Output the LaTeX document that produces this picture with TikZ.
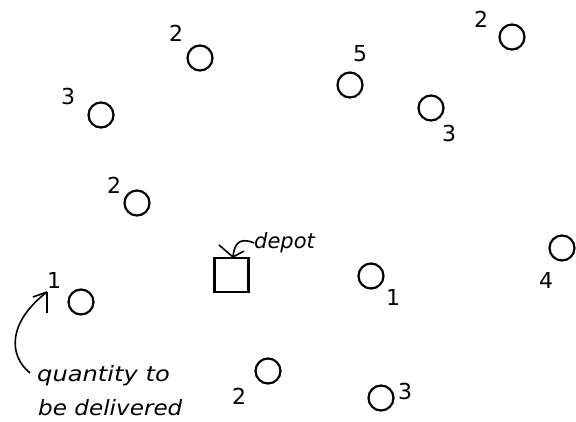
\documentclass[tikz,border=0pt]{standalone}
\usepackage{fontspec}
\setmainfont{Liberation Sans}
\newfontfamily\labfont{DejaVu Sans}
\begin{document}
\begin{tikzpicture}[x=1pt,y=-1pt,
  cust/.style={circle,draw,line width=2.2pt,minimum size=25pt,inner sep=0pt},
  qty/.style={font=\labfont\fontsize{22}{22}\selectfont,inner sep=0pt},
  note/.style={font=\labfont\itshape\fontsize{21}{21}\selectfont,inner sep=0pt,anchor=west},
  conn/.style={line width=1.6pt}]
\useasboundingbox (0,0) rectangle (576,421);
% customers
\node[cust] (c1) at (200,58) {};   \node[qty] (q1) at (176,33) {2};
\node[cust] (c2) at (350,85) {};   \node[qty] (q2) at (360,54) {5};
\node[cust] (c3) at (431,108) {};  \node[qty] (q3) at (449,133) {3};
\node[cust] (c4) at (512,37) {};   \node[qty] (q4) at (481,19) {2};
\node[cust] (c5) at (101,115) {};  \node[qty] (q5) at (68,96) {3};
\node[cust] (c6) at (137,203) {};  \node[qty] (q6) at (114,185) {2};
\node[cust] (c7) at (562,248) {};  \node[qty] (q7) at (546,280) {4};
\node[cust] (c8) at (81,302) {};   \node[qty] (q8) at (54,280) {1};
\node[cust] (c9) at (371,276) {};  \node[qty] (q9) at (393,297) {1};
\node[cust] (c10) at (268,371) {}; \node[qty] (q10) at (239,396) {2};
\node[cust] (c11) at (381,398) {}; \node[qty] (q11) at (405,391) {3};
% depot
\node[draw,line width=2.2pt,minimum width=34pt,minimum height=34pt,inner sep=0pt] (depot) at (231.5,275) {};
\node[note] (dlab) at (254,243) {depot};
\coordinate (dtip) at (233,257);
\draw[conn] (dlab.west) .. controls (238,236) and (234,246) .. (dtip);
\draw[conn] (dtip) -- ++(-14,-12);
\draw[conn] (dtip) -- ++(11,-6);
% quantity annotation
\node[note,xscale=1.15] (ql1) at (37,376) {quantity to};
\node[note,xscale=1.1] (ql2) at (38,408) {be delivered};
\coordinate (qtip) at (47,292);
\draw[conn] (ql1.west) ++(-7,-3) .. controls (8,355) and (8,322) .. (qtip);
\draw[conn] (qtip) -- ++(0,21);
\draw[conn] (qtip) -- ++(-14,5);
\end{tikzpicture}
\end{document}
